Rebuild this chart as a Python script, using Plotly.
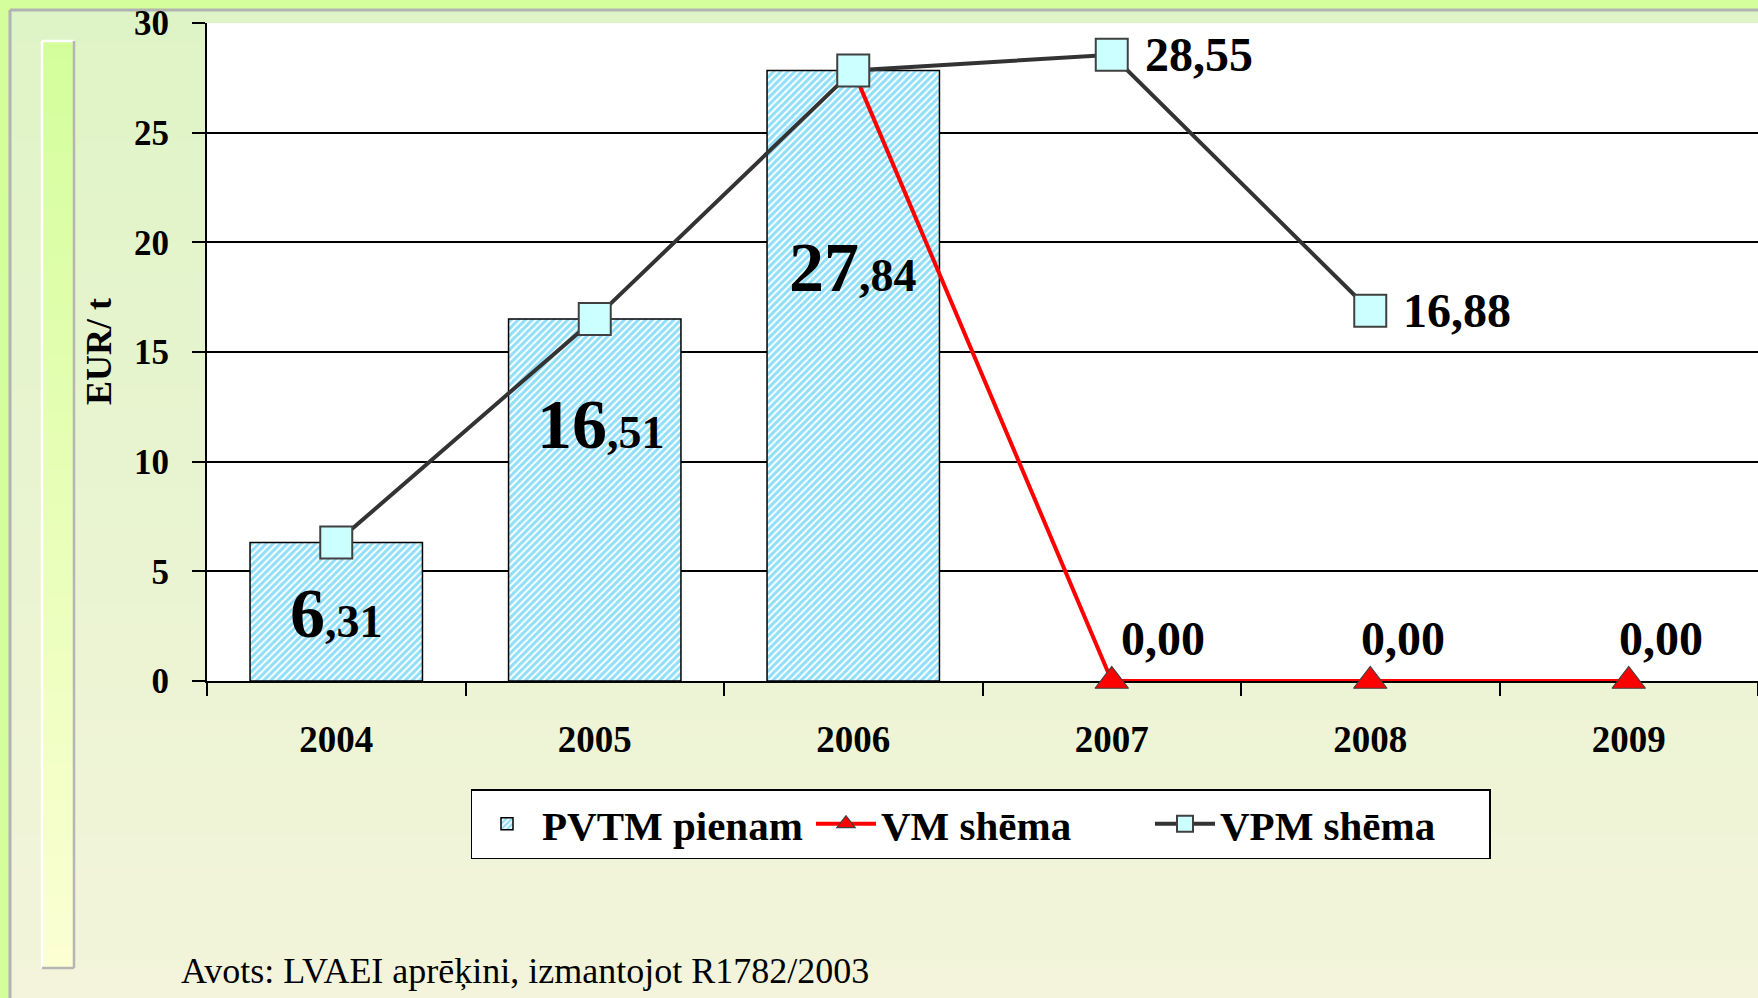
import plotly.graph_objects as go

# ---------------- data ----------------
years = ["2004", "2005", "2006", "2007", "2008", "2009"]
pvtm = [6.31, 16.51, 27.84, None, None, None]
vm = [None, None, 27.84, 0.00, 0.00, 0.00]
vpm = [6.31, 16.51, 27.84, 28.55, 16.88, None]
y_ticks = [0, 5, 10, 15, 20, 25, 30]
series_names = ["PVTM pienam", "VM shēma", "VPM shēma"]
y_title = "EUR/ t"
source_text = "Avots: LVAEI aprēķini, izmantojot R1782/2003"

# which points carry value labels
vm_labelled = [3, 4, 5]
vpm_labelled = [3, 4]

# ---------------- layout helpers ----------------
W, H = 1758, 998
L, R, T, B = 207, 0, 23, 317
PW, PH = W - L - R, H - T - B
FONT = "Liberation Serif"


def px(x):
    return (x - L) / PW


def py(y):
    return (H - B - y) / PH


def fmt(v):
    return f"{v:.2f}".replace(".", ",")


def hex2rgb(h):
    h = h.lstrip("#")
    return tuple(int(h[i:i + 2], 16) for i in (0, 2, 4))


def lerp(c1, c2, t):
    a, b = hex2rgb(c1), hex2rgb(c2)
    return "rgb(%d,%d,%d)" % tuple(round(a[i] + (b[i] - a[i]) * t) for i in range(3))


shapes = []


def vgradient(x0, x1, y0, y1, c_top, c_bot, n=60):
    for i in range(n):
        a = y0 + (y1 - y0) * i / n
        b = y0 + (y1 - y0) * (i + 1) / n + 1
        shapes.append(dict(type="rect", xref="paper", yref="paper", layer="below",
                           x0=px(x0), x1=px(x1), y0=py(a), y1=py(min(b, y1)),
                           fillcolor=lerp(c_top, c_bot, i / (n - 1)), line=dict(width=0)))


def pline(x0, y0, x1, y1, color, w):
    shapes.append(dict(type="line", xref="paper", yref="paper", layer="below",
                       x0=px(x0), x1=px(x1), y0=py(y0), y1=py(y1),
                       line=dict(color=color, width=w)))


# inner panel gradient + border
vgradient(10, W + 2, 10, H + 2, "#dff4c6", "#f3f4db")
pline(10, 10, W + 2, 10, "#b2b2b2", 3)
pline(10, 10, 10, H + 2, "#b2b2b2", 3)
# left decorative bar
vgradient(42, 74, 41, 968, "#d4fe9c", "#fbffd2", n=50)
pline(42, 41, 74, 41, "white", 2.5)
pline(42, 41, 42, 968, "white", 2.5)
pline(74, 41, 74, 968, "#b5b5b5", 2.5)
pline(42, 968, 74, 968, "#b5b5b5", 2.5)
# plot area
shapes.append(dict(type="rect", xref="paper", yref="paper", layer="below",
                   x0=0, x1=1, y0=0, y1=1, fillcolor="white", line=dict(width=0)))

# ---------------- traces ----------------
fig = go.Figure()
fig.add_trace(go.Bar(
    x=years, y=pvtm, name=series_names[0], width=0.667,
    marker=dict(color="white",
                pattern=dict(shape="/", fgcolor="#22bff2", bgcolor="white", size=5, solidity=0.6),
                line=dict(color="black", width=1.5)),
))
fig.add_trace(go.Scatter(
    x=years, y=vm, name=series_names[1], mode="lines+markers", cliponaxis=False,
    line=dict(color="#ff0000", width=4),
    marker=dict(symbol="triangle-up", size=29, color="#ff0000", line=dict(color="#404040", width=1.2)),
))
fig.add_trace(go.Scatter(
    x=years, y=vpm, name=series_names[2], mode="lines+markers", cliponaxis=False,
    line=dict(color="#333333", width=4),
    marker=dict(symbol="square", size=32, color="#ccffff", line=dict(color="#404040", width=2)),
))

# ---------------- annotations ----------------
annotations = []
bar_label_y = [3.08, 11.7, 18.85]
bar_label_xshift = [0, 6, 0]
for i, v in enumerate(pvtm):
    if v is None:
        continue
    whole, dec = fmt(v).split(",")
    annotations.append(dict(
        x=i, y=bar_label_y[i], xref="x", yref="y", showarrow=False,
        xanchor="center", yanchor="middle", xshift=bar_label_xshift[i],
        text=f"<b>{whole}</b><b><span style='font-size:46px'>,{dec}</span></b>",
        font=dict(family=FONT, size=70, color="black")))

vm_xshift = [51, 33, 32]
for k, i in enumerate(vm_labelled):
    annotations.append(dict(
        x=i, y=vm[i], xref="x", yref="y", showarrow=False,
        xanchor="center", yanchor="middle", xshift=vm_xshift[k], yshift=43,
        text=f"<b>{fmt(vm[i])}</b>", font=dict(family=FONT, size=48, color="black")))

for i in vpm_labelled:
    annotations.append(dict(
        x=i, y=vpm[i], xref="x", yref="y", showarrow=False,
        xanchor="left", yanchor="middle", xshift=31,
        text=f"<b>{fmt(vpm[i])}</b>", font=dict(family=FONT, size=48, color="black")))

annotations.append(dict(
    x=px(99), y=0.5, xref="paper", yref="paper", showarrow=False, textangle=-90,
    xanchor="center", yanchor="middle", text=f"<b>{y_title}</b>",
    font=dict(family=FONT, size=36, color="black")))
annotations.append(dict(
    x=px(179), y=py(971), xref="paper", yref="paper", showarrow=False,
    xanchor="left", yanchor="middle", text=source_text,
    font=dict(family=FONT, size=36, color="black")))

# ---------------- layout ----------------
fig.update_layout(
    width=W, height=H,
    margin=dict(l=L, r=R, t=T, b=B, pad=0),
    paper_bgcolor="#d4fe9c", plot_bgcolor="white",
    font=dict(family=FONT, color="black"),
    shapes=shapes, annotations=annotations,
    showlegend=True,
    legend=dict(orientation="h", x=px(980.5), xanchor="center", y=py(789), yanchor="top",
                bgcolor="white", bordercolor="black", borderwidth=1.5,
                font=dict(family=FONT, size=41, color="black", weight="bold"),
                traceorder="normal", itemwidth=60, entrywidth=264),
    xaxis=dict(type="category", categoryorder="array", categoryarray=years,
               range=[-0.5, 5.5], showgrid=False, showline=True, linecolor="black", linewidth=2,
               ticks="outside", ticklen=13, tickwidth=1.5, tickcolor="black", tickson="boundaries",
               tickfont=dict(family=FONT, size=37, color="black", weight="bold"),
               ticklabelstandoff=25, layer="below traces", zeroline=False),
    yaxis=dict(range=[0, 30], tickvals=y_ticks, ticktext=[str(t) for t in y_ticks],
               showgrid=True, gridcolor="black", gridwidth=1.6, zeroline=False,
               showline=True, linecolor="black", linewidth=2,
               ticks="outside", ticklen=13, tickwidth=1.5, tickcolor="black",
               tickfont=dict(family=FONT, size=35, color="black", weight="bold"),
               ticklabelstandoff=16, layer="below traces"),
)

fig.write_html("out.html", config={"displayModeBar": False},
               post_script="document.body.style.margin='0';document.body.style.overflow='hidden';")
